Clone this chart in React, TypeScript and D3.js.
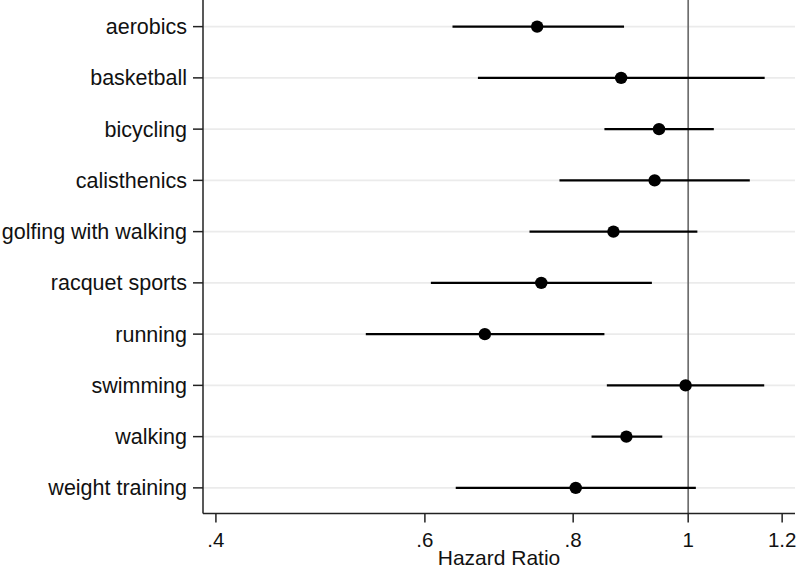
import React from "react";
import * as d3 from "d3";

const categories = [
  "aerobics",
  "basketball",
  "bicycling",
  "calisthenics",
  "golfing with walking",
  "racquet sports",
  "running",
  "swimming",
  "walking",
  "weight training",
];
const hazardRatio = [0.746, 0.878, 0.945, 0.937, 0.865, 0.752, 0.674, 0.995, 0.887, 0.804];
const lowerCI = [0.633, 0.665, 0.85, 0.779, 0.735, 0.607, 0.535, 0.854, 0.829, 0.637];
const upperCI = [0.883, 1.16, 1.051, 1.127, 1.018, 0.932, 0.85, 1.159, 0.951, 1.015];
const xTicks = [0.4, 0.6, 0.8, 1, 1.2];
const xTickLabels = [".4", ".6", ".8", "1", "1.2"];
const refValue = 1;
const xTitle = "Hazard Ratio";

const W = 800;
const H = 571;
const left = 203;
const right = 795;
const top = 1;
const bottom = 513.5;
const FONT = "'Liberation Sans', Arial, Helvetica, sans-serif";

export default function App() {
  const x = d3.scaleLog().domain([0.3901, 1.2303]).range([left, right]);
  const y = d3.scalePoint<string>().domain(categories).range([top, bottom]).padding(0.5);

  return (
    <svg
      width={W}
      height={H}
      style={{ position: "absolute", left: 0, top: 0, background: "#fff" }}
      fontFamily={FONT}
    >
      <rect x={0} y={0} width={W} height={H} fill="#fff" />
      {categories.map((c) => (
        <line key={"g" + c} x1={left} x2={right} y1={y(c)} y2={y(c)} stroke="#ebebeb" strokeWidth={1.6} />
      ))}
      <line x1={x(refValue)} x2={x(refValue)} y1={0} y2={bottom} stroke="#6e6e6e" strokeWidth={1.7} />
      {categories.map((c, i) => (
        <line
          key={"ci" + c}
          x1={x(lowerCI[i])}
          x2={x(upperCI[i])}
          y1={y(c)}
          y2={y(c)}
          stroke="#000"
          strokeWidth={2.4}
        />
      ))}
      {categories.map((c, i) => (
        <circle key={"p" + c} cx={x(hazardRatio[i])} cy={y(c)} r={6.2} fill="#000" />
      ))}
      <line x1={left} x2={left} y1={0} y2={bottom} stroke="#222" strokeWidth={1.5} />
      <line x1={left} x2={right} y1={bottom} y2={bottom} stroke="#222" strokeWidth={1.5} />
      {categories.map((c) => (
        <g key={"yt" + c}>
          <line x1={left - 10} x2={left} y1={y(c)} y2={y(c)} stroke="#222" strokeWidth={1.5} />
          <text x={left - 16} y={(y(c) as number) + 7.6} textAnchor="end" fontSize={21.5} fill="#111">
            {c}
          </text>
        </g>
      ))}
      {xTicks.map((t, i) => (
        <g key={"xt" + t}>
          <line x1={x(t)} x2={x(t)} y1={bottom} y2={bottom + 9} stroke="#222" strokeWidth={1.5} />
          <text x={x(t)} y={547} textAnchor="middle" fontSize={20.5} fill="#111">
            {xTickLabels[i]}
          </text>
        </g>
      ))}
      <text x={(left + right) / 2} y={565} textAnchor="middle" fontSize={21} fill="#111">
        {xTitle}
      </text>
    </svg>
  );
}
